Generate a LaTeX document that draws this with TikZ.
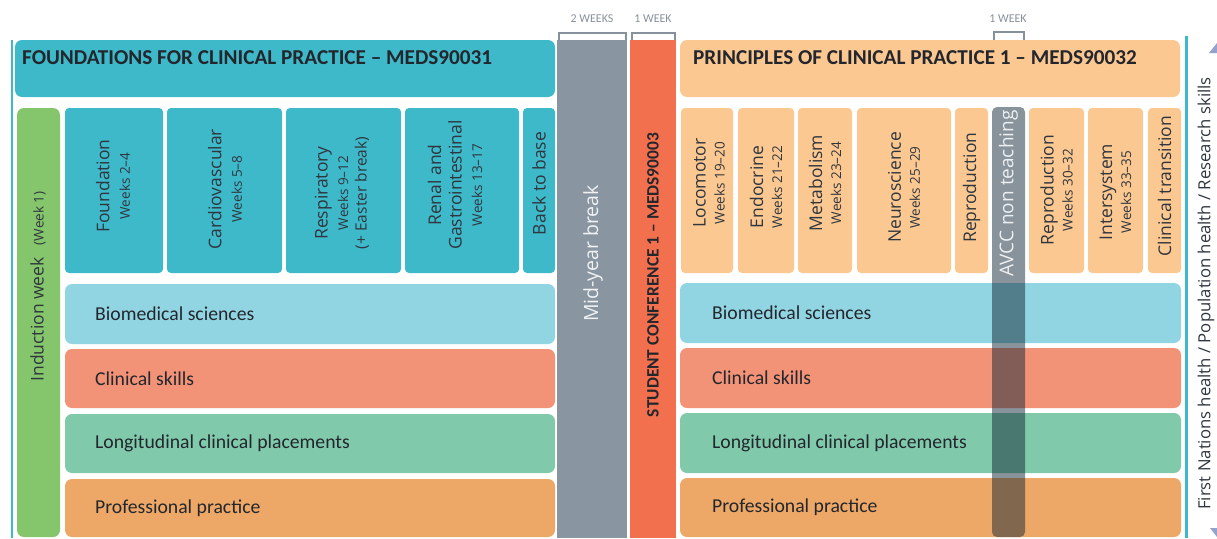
\documentclass[tikz,border=0pt]{standalone}
\usepackage{fontspec}
\setmainfont{Carlito}
\newfontfamily\topicfont{Open Sans}
\usetikzlibrary{calc}

\definecolor{cTeal}{RGB}{62,185,202}
\definecolor{cPeach}{RGB}{252,200,145}
\definecolor{cBio}{RGB}{146,213,226}
\definecolor{cSkill}{RGB}{242,146,119}
\definecolor{cLong}{RGB}{128,201,171}
\definecolor{cProf}{RGB}{237,168,103}
\definecolor{cInd}{RGB}{133,198,108}
\definecolor{cBreak}{RGB}{137,149,160}
\definecolor{cConf}{RGB}{242,112,78}
\definecolor{cShade}{RGB}{20,40,55}
\definecolor{cText}{RGB}{35,38,45}
\definecolor{cTopic}{RGB}{48,54,62}
\definecolor{cWeek}{RGB}{135,145,155}
\definecolor{cArrow}{RGB}{150,162,206}

% block: name, x1, y1, x2, y2, style  (pixel-like coordinates, y downwards)
\newcommand\blk[6]{%
  \node[#6, anchor=north west, minimum width={#4-#2}, minimum height={#5-#3}] (#1) at (#2,#3) {};}
\newcommand\tsml[1]{{\fontsize{13.5}{15}\selectfont #1}}
\newcommand\tmid[1]{{\fontsize{15.5}{17}\selectfont #1}}

\tikzset{
  band/.style={draw=none, inner sep=0pt, outer sep=0pt, rounded corners=7pt},
  topic/.style={band, rounded corners=4pt},
  rot/.style={rotate=90, align=center, inner sep=0pt, text=cTopic, font=\topicfont\fontsize{17.5}{20.5}\selectfont},
  rotR/.style={rot, font=\topicfont\fontsize{17.5}{19}\selectfont},
  rowlabel/.style={anchor=west, inner sep=0pt, text=cText, font=\fontsize{19.7}{22}\selectfont},
  head/.style={anchor=base west, inner sep=0pt, text=cText, font=\bfseries\fontsize{21.2}{23}\selectfont},
  weeklabel/.style={inner sep=0pt, text=cWeek, font=\fontsize{12}{13}\selectfont},
  bracket/.style={draw=cWeek, line width=2.8pt},
  rule/.style={draw=cTeal, line width=2.5pt},
}

\begin{document}
\begin{tikzpicture}[x=1pt, y=-1pt]
\useasboundingbox (0,0) rectangle (1217,538);

% teal side rules
\coordinate (lrTop) at (12,40);
\coordinate (lrBot) at (12,538);
\coordinate (rrTop) at (1186.5,36);
\coordinate (rrBot) at (1186.5,538);
\draw[rule] (lrTop) -- (lrBot);
\draw[rule] (rrTop) -- (rrBot);

% ---------------- first subject ----------------
\blk{hdL}{15}{40}{555}{97}{band, fill=cTeal}
\node[head] (hdLT) at (22,64.5) {FOUNDATIONS FOR CLINICAL PRACTICE – MEDS90031};

\blk{ind}{17}{108}{60}{537}{band, fill=cInd}
\node[rot] (indT) at (38,286.5) {Induction week\hspace{12pt}\tsml{(Week 1)}};

\blk{fnd}{65}{108}{163}{273}{topic, fill=cTeal}
\blk{car}{167}{108}{282}{273}{topic, fill=cTeal}
\blk{res}{286}{108}{401}{273}{topic, fill=cTeal}
\blk{ren}{405}{108}{519}{273}{topic, fill=cTeal}
\blk{btb}{523}{108}{555}{273}{topic, fill=cTeal}
\node[rot] (fndT) at (113,186) {Foundation\\\tsml{Weeks 2–4}};
\node[rot] (carT) at (225,189) {Cardiovascular\\\tsml{Weeks 5–8}};
\node[rot] (resT) at (342,193) {Respiratory\\\tsml{Weeks 9–12}\\[-2pt]\tmid{(+ Easter break)}};
\node[rot] (renT) at (455,185) {Renal and\\Gastrointestinal\\\tsml{Weeks 13–17}};
\node[rot] (btbT) at (539,183.5) {Back to base};

\blk{bioL}{65}{284}{555}{344}{band, fill=cBio}
\blk{sklL}{65}{349}{555}{408}{band, fill=cSkill}
\blk{lngL}{65}{414}{555}{473}{band, fill=cLong}
\blk{prfL}{65}{479}{555}{537}{band, fill=cProf}
\node[rowlabel] (bioLT) at ([xshift=30pt]bioL.west) {Biomedical sciences};
\node[rowlabel] (sklLT) at ([xshift=30pt]sklL.west) {Clinical skills};
\node[rowlabel] (lngLT) at ([xshift=30pt]lngL.west) {Longitudinal clinical placements};
\node[rowlabel] (prfLT) at ([xshift=30pt]prfL.west) {Professional practice};

% ---------------- mid-year break and conference ----------------
\blk{brk}{557}{40}{627}{538}{inner sep=0pt, outer sep=0pt, fill=cBreak}
\node[rot, text=white!88!cBreak, font=\topicfont\fontsize{19.5}{21}\selectfont] (brkT) at (593,253.5) {Mid-year break};
\blk{conf}{630}{40}{676}{538}{inner sep=0pt, outer sep=0pt, fill=cConf}
\node[rot, text=cText, font=\bfseries\fontsize{17.4}{19}\selectfont] (confT) at (653,275) {STUDENT CONFERENCE 1 – MEDS90003};

\node[weeklabel] (wk2) at (592,19) {2 WEEKS};
\node[weeklabel] (wk1a) at (653,19) {1 WEEK};
\draw[bracket] ([xshift=2pt]brk.north west) -- ++(0,-7) -| ([xshift=-1pt]brk.north east);
\draw[bracket] ([xshift=2pt]conf.north west) -- ++(0,-7) -| ([xshift=-1pt]conf.north east);

% ---------------- second subject ----------------
\blk{hdR}{680}{40}{1180}{97}{band, fill=cPeach}
\node[head] (hdRT) at (693,64.5) {PRINCIPLES OF CLINICAL PRACTICE 1 – MEDS90032};

\blk{loc}{681}{108}{733}{273}{topic, fill=cPeach}
\blk{end}{738}{108}{794}{273}{topic, fill=cPeach}
\blk{met}{798}{108}{852}{273}{topic, fill=cPeach}
\blk{neu}{857}{108}{951}{273}{topic, fill=cPeach}
\blk{rpa}{955}{108}{988}{273}{topic, fill=cPeach}
\blk{rpb}{1029}{108}{1084}{273}{topic, fill=cPeach}
\blk{isy}{1088}{108}{1143}{273}{topic, fill=cPeach}
\blk{clt}{1148}{108}{1181}{273}{topic, fill=cPeach}
\node[rotR] (locT) at (709,183) {Locomotor\\\tsml{Weeks 19–20}};
\node[rotR] (endT) at (766,187) {Endocrine\\\tsml{Weeks 21–22}};
\node[rotR] (metT) at (825,183) {Metabolism\\\tsml{Weeks 23–24}};
\node[rotR] (neuT) at (904,187.5) {Neuroscience\\\tsml{Weeks 25–29}};
\node[rotR] (rpaT) at (971.5,187.5) {Reproduction};
\node[rotR] (rpbT) at (1056.5,190) {Reproduction\\\tsml{Weeks 30–32}};
\node[rotR] (isyT) at (1115.5,192) {Intersystem\\\tsml{Weeks 33–35}};
\node[rotR] (cltT) at (1164.5,186) {Clinical transition};

\blk{bioR}{680}{283}{1181}{343}{band, fill=cBio}
\blk{sklR}{680}{348}{1181}{408}{band, fill=cSkill}
\blk{lngR}{680}{413}{1181}{473}{band, fill=cLong}
\blk{prfR}{680}{478}{1181}{537}{band, fill=cProf}
\node[rowlabel] (bioRT) at ([xshift=32pt]bioR.west) {Biomedical sciences};
\node[rowlabel] (sklRT) at ([xshift=32pt]sklR.west) {Clinical skills};
\node[rowlabel] (lngRT) at ([xshift=32pt]lngR.west) {Longitudinal clinical placements};
\node[rowlabel] (prfRT) at ([xshift=32pt]prfR.west) {Professional practice};

% non-teaching week strip laid over the streams
\blk{avcc}{992}{107}{1025}{537}{band, rounded corners=5pt, fill=cShade, fill opacity=0.5}
\node[rot, text=white!85!cBreak, font=\topicfont\fontsize{19}{21}\selectfont] (avccT) at (1008.5,193.5) {AVCC non teaching};
\node[weeklabel] (wk1b) at (1008,19) {1 WEEK};
\draw[bracket] ([xshift=2pt,yshift=67pt]avcc.north west) -- ++(0,-8) -| ([xshift=-1pt,yshift=67pt]avcc.north east);

% ---------------- cross-curricular themes ----------------
\node[rot, text=cTopic, font=\topicfont\fontsize{16.7}{18}\selectfont] (thm) at (1206,293.5)
  {First Nations health / Population health / Research skills};
\coordinate (arTop) at (1217,43);
\coordinate (arBot) at (1217,537);
\fill[cArrow] (arTop) -- ++(-8,10) -- ++(8,0) -- cycle;
\fill[cArrow] (arBot) -- ++(-7,-9) -- ++(7,0) -- cycle;
\end{tikzpicture}
\end{document}
